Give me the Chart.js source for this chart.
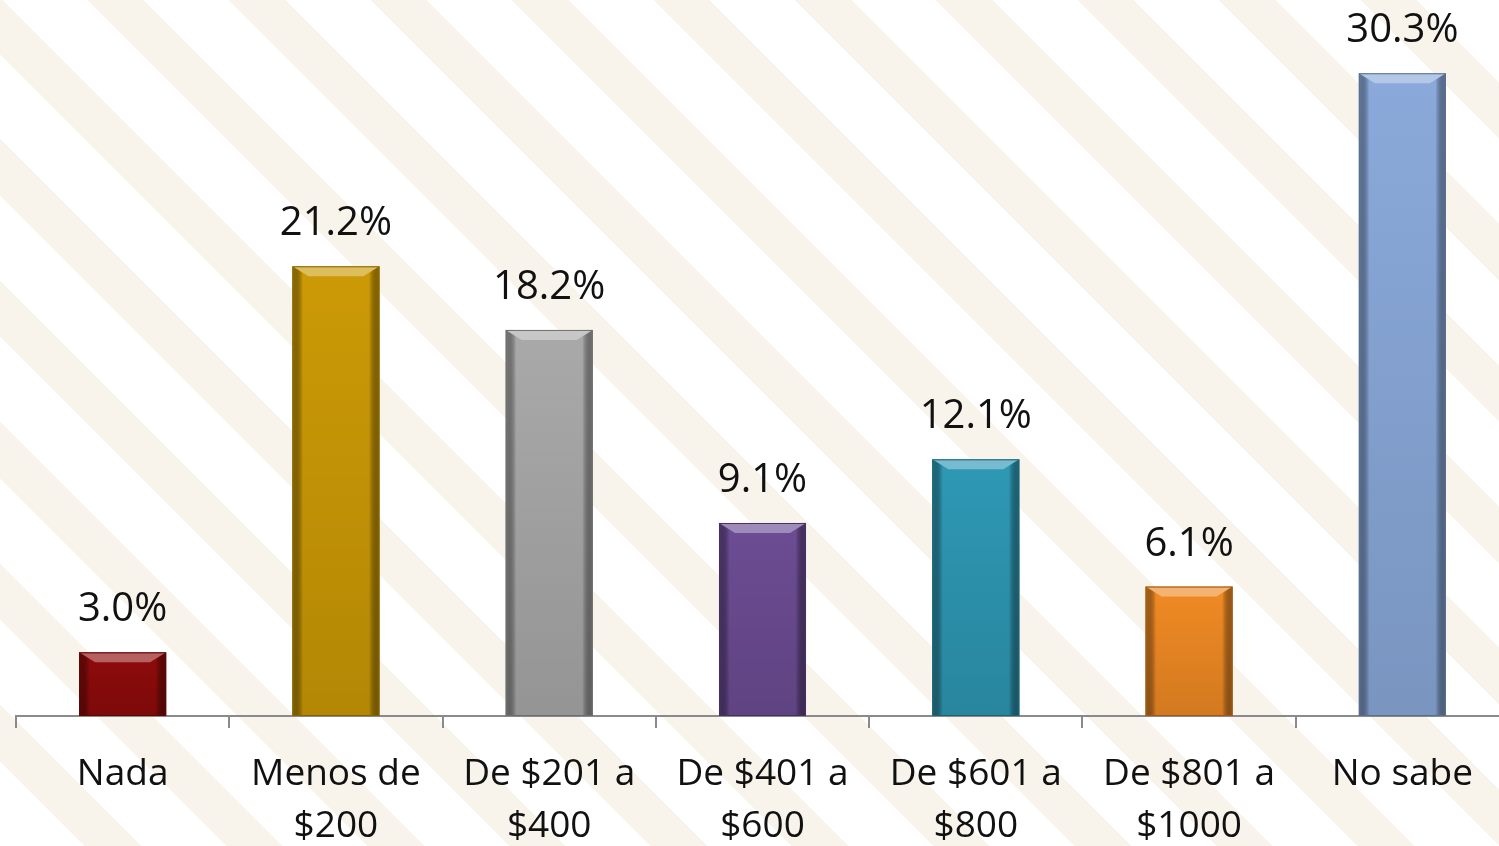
<!DOCTYPE html>
<html>
<head>
<meta charset="utf-8">
<script src="https://cdn.jsdelivr.net/npm/chart.js@4.4.1/dist/chart.umd.min.js"></script>
<style>
  html, body { margin: 0; padding: 0; overflow: hidden; width: 1499px; height: 846px; }
  body {
    background-color: #ffffff;
    background-image: repeating-linear-gradient(45deg, #ffffff 0px, #ffffff 60px, #f8f4ec 60px, #f8f4ec 100px);
  }
  #wrap { position: absolute; left: 0; top: 0; width: 1509px; height: 846px; }
</style>
</head>
<body>
<div id="wrap"><canvas id="c" width="1509" height="846"></canvas></div>
<script>
const categories = [
  ["Nada"],
  ["Menos de", "$200"],
  ["De $201 a", "$400"],
  ["De $401 a", "$600"],
  ["De $601 a", "$800"],
  ["De $801 a", "$1000"],
  ["No sabe"]
];
const values = [3.0, 21.2, 18.2, 9.1, 12.1, 6.1, 30.3];
const valueLabels = ["3.0%", "21.2%", "18.2%", "9.1%", "12.1%", "6.1%", "30.3%"];
const barColors = ["#8e0b0b", "#cc9a06", "#a9a9a9", "#6c4c93", "#2e98b4", "#f08a24", "#8aa9da"];

function shade(hex, f) {
  const n = parseInt(hex.slice(1), 16);
  let r = (n >> 16) & 255, g = (n >> 8) & 255, b = n & 255;
  if (f >= 0) { r += (255 - r) * f; g += (255 - g) * f; b += (255 - b) * f; }
  else { r *= 1 + f; g *= 1 + f; b *= 1 + f; }
  return `rgb(${Math.round(r)},${Math.round(g)},${Math.round(b)})`;
}

const bevelPlugin = {
  id: 'bevel',
  afterDatasetsDraw(chart) {
    const ctx = chart.ctx;
    const meta = chart.getDatasetMeta(0);
    meta.data.forEach((bar, i) => {
      const c = barColors[i];
      const l = bar.x - bar.width / 2, r = bar.x + bar.width / 2;
      const t = bar.y, b = bar.base;
      const bv = 10;
      ctx.save();
      const g = ctx.createLinearGradient(l, 0, r, 0);
      g.addColorStop(0, shade(c, -0.25));
      g.addColorStop(0.12, 'rgba(0,0,0,0)');
      g.addColorStop(0.88, 'rgba(0,0,0,0)');
      g.addColorStop(1, shade(c, -0.3));
      ctx.fillStyle = g;
      ctx.fillRect(l, t, r - l, b - t);
      const gv = ctx.createLinearGradient(0, t, 0, b);
      gv.addColorStop(0, 'rgba(0,0,0,0)');
      gv.addColorStop(1, 'rgba(0,0,0,0.12)');
      ctx.fillStyle = gv;
      ctx.fillRect(l, t, r - l, b - t);
      ctx.beginPath();
      ctx.moveTo(l, t);
      ctx.lineTo(r, t);
      ctx.lineTo(r - bv * 1.6, t + bv);
      ctx.lineTo(l + bv * 1.6, t + bv);
      ctx.closePath();
      ctx.fillStyle = shade(c, 0.35);
      ctx.fill();
      ctx.strokeStyle = shade(c, -0.35);
      ctx.lineWidth = 1;
      ctx.strokeRect(l + 0.5, t + 0.5, r - l - 1, b - t - 1);
      ctx.restore();
    });
  },
  afterDraw(chart) {
    const ctx = chart.ctx;
    const meta = chart.getDatasetMeta(0);
    ctx.save();
    ctx.font = '40px "Open Sans"';
    ctx.fillStyle = '#111111';
    ctx.textAlign = 'center';
    ctx.textBaseline = 'alphabetic';
    meta.data.forEach((bar, i) => {
      ctx.fillText(valueLabels[i], bar.x, bar.y - 31);
    });
    ctx.restore();
  }
};

new Chart(document.getElementById('c'), {
  type: 'bar',
  data: {
    labels: categories,
    datasets: [{
      data: values,
      backgroundColor: barColors,
      borderWidth: 0,
      barPercentage: 0.408,
      categoryPercentage: 1.0
    }]
  },
  options: {
    responsive: false,
    animation: false,
    layout: { padding: { left: 16, right: 0, top: 16, bottom: 0 } },
    plugins: { legend: { display: false }, tooltip: { enabled: false } },
    scales: {
      y: { display: false, min: 0, max: 33 },
      x: {
        afterFit(scale) { scale.height = 130; },
        border: { display: true, color: '#8a8a8a', width: 2 },
        grid: { display: true, drawOnChartArea: false, drawTicks: true, tickLength: 12, color: '#8a8a8a', lineWidth: 2, offset: true },
        ticks: {
          color: '#111111',
          padding: 20,
          maxRotation: 0,
          autoSkip: false,
          font: { family: '"Open Sans"', size: 37, lineHeight: '52px' }
        }
      }
    }
  },
  plugins: [bevelPlugin]
});
</script>
</body>
</html>
